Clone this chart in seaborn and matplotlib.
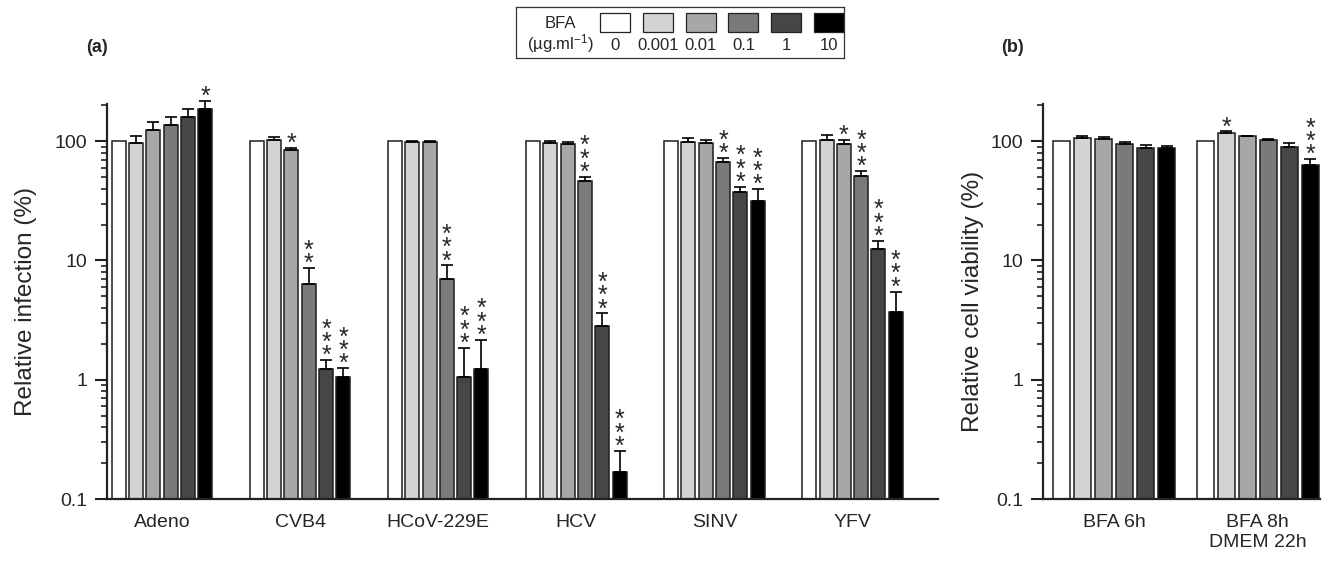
import numpy as np
import pandas as pd
import matplotlib
matplotlib.use('Agg')
import matplotlib.pyplot as plt
import seaborn as sns
from matplotlib.patches import Rectangle
from matplotlib.ticker import LogLocator, NullFormatter

# BFA doses and their grey levels
doses = ['0', '0.001', '0.01', '0.1', '1', '10']
dose_colors = ['#ffffff', '#d3d3d3', '#a7a7a7', '#7a7a7a', '#464646', '#000000']

# panel (a): relative infection (%)
viruses = ['Adeno', 'CVB4', 'HCoV-229E', 'HCV', 'SINV', 'YFV']
inf_adeno = [100, 97, 124, 137, 160, 187]
inf_cvb4 = [100, 103, 85, 6.4, 1.22, 1.06]
inf_hcov = [100, 98.5, 98.5, 7.0, 1.06, 1.24]
inf_hcv = [100, 96.8, 95.6, 46.4, 2.83, 0.17]
inf_sinv = [100, 98.6, 96.8, 66.6, 37.8, 31.5]
inf_yfv = [100, 102, 94.4, 51.5, 12.4, 3.68]

err_adeno = [0, 13, 20, 23, 26, 31]
err_cvb4 = [0, 5, 3.5, 2.2, 0.24, 0.19]
err_hcov = [0, 1.5, 1.5, 2.1, 0.79, 0.92]
err_hcv = [0, 3, 2.4, 3.7, 0.77, 0.083]
err_sinv = [0, 7.4, 5.7, 5.8, 3.5, 8]
err_yfv = [0, 9.6, 8.1, 4.5, 2.2, 1.8]

stars_adeno = [0, 0, 0, 0, 0, 1]
stars_cvb4 = [0, 0, 1, 2, 3, 3]
stars_hcov = [0, 0, 0, 3, 3, 3]
stars_hcv = [0, 0, 0, 3, 3, 3]
stars_sinv = [0, 0, 0, 2, 3, 3]
stars_yfv = [0, 0, 1, 3, 3, 3]

# panel (b): relative cell viability (%)
conditions = ['BFA 6h', 'BFA 8h\nDMEM 22h']
via_6h = [100, 106.6, 105, 93.9, 88, 87]
via_8h = [100, 118, 110, 102.6, 88.6, 63.5]
via_err_6h = [0, 4.4, 4, 5, 4.5, 5]
via_err_8h = [0, 3, 1, 2, 7.4, 7]
via_stars_6h = [0, 0, 0, 0, 0, 0]
via_stars_8h = [0, 1, 0, 0, 0, 3]

infection = [inf_adeno, inf_cvb4, inf_hcov, inf_hcv, inf_sinv, inf_yfv]
inf_errs = [err_adeno, err_cvb4, err_hcov, err_hcv, err_sinv, err_yfv]
inf_stars = [stars_adeno, stars_cvb4, stars_hcov, stars_hcv, stars_sinv, stars_yfv]
viability = [via_6h, via_8h]
via_errs = [via_err_6h, via_err_8h]
via_stars = [via_stars_6h, via_stars_8h]


def long_df(groups, values, col):
    rows = []
    for g, vals in zip(groups, values):
        for d, v in zip(doses, vals):
            rows.append({'group': g, 'dose': d, col: v})
    return pd.DataFrame(rows)


sns.set_style('ticks')
plt.rcParams['font.family'] = ['Liberation Sans', 'DejaVu Sans']
plt.rcParams['mathtext.default'] = 'regular'

fig = plt.figure(figsize=(13.35, 5.62), dpi=100)
ax_a = fig.add_axes([107 / 1335, 63 / 562, 831 / 1335, 395 / 562])
ax_b = fig.add_axes([1043 / 1335, 63 / 562, 277 / 1335, 395 / 562])


def draw_panel(ax, df, col, errs, stars, width, gap, xlim, ylabel, lpad):
    sns.barplot(data=df, x='group', y=col, hue='dose', hue_order=doses,
                palette=dose_colors, errorbar=None, width=width, gap=gap,
                edgecolor='#1e1e1e', linewidth=1.1, saturation=1,
                legend=False, ax=ax)
    ax.set_yscale('log')
    ax.set_ylim(0.1, 205)
    ax.set_xlim(*xlim)
    bar_conts = list(ax.containers)
    for i, cont in enumerate(bar_conts):
        for j, bar in enumerate(cont.patches):
            x = bar.get_x() + bar.get_width() / 2
            h = bar.get_height()
            e = errs[j][i]
            if e > 0:
                ax.errorbar(x, h, yerr=[[0], [e]], fmt='none', ecolor='black',
                            elinewidth=1.2, capsize=4.5, capthick=1.2,
                            clip_on=False)
            n = stars[j][i]
            if n:
                # one stacked text per bar
                ax.annotate('\n'.join(['*'] * n), (x, h + e), xytext=(0, -5.8),
                            textcoords='offset points', ha='center',
                            va='bottom', fontsize=18, linespacing=0.44,
                            annotation_clip=False)
    ax.set_yticks([0.1, 1, 10, 100], labels=['0.1', '1', '10', '100'])
    ax.yaxis.set_minor_locator(LogLocator(base=10, subs=np.arange(2, 10)))
    ax.yaxis.set_minor_formatter(NullFormatter())
    ax.tick_params(axis='y', which='major', length=9, width=1.5,
                   labelsize=14, pad=5, color='#222222')
    ax.tick_params(axis='y', which='minor', length=4.5, width=1.2, color='#222222')
    ax.tick_params(axis='x', length=0, labelsize=14, pad=11)
    sns.despine(ax=ax)
    for s in ['left', 'bottom']:
        ax.spines[s].set_linewidth(1.6)
        ax.spines[s].set_color('#222222')
    ax.set_xlabel('')
    ax.set_ylabel(ylabel, fontsize=17.5, labelpad=lpad)


draw_panel(ax_a, long_df(viruses, infection, 'infection'), 'infection',
           inf_errs, inf_stars, 0.752, 0.19, (-0.398, 5.619),
           'Relative infection (%)', 13)
draw_panel(ax_b, long_df(conditions, viability, 'viability'), 'viability',
           via_errs, via_stars, 0.877, 0.2, (-0.494, 1.433),
           'Relative cell viability (%)', 5)

fig.text(97 / 1335, 1 - 47 / 562, '(a)', fontsize=13, fontweight='bold',
         ha='center', va='center')
fig.text(1012 / 1335, 1 - 47 / 562, '(b)', fontsize=13, fontweight='bold',
         ha='center', va='center')

# legend box built by hand: labels sit below the swatches
lax = fig.add_axes([516 / 1335, 1 - 58 / 562, 328 / 1335, 51 / 562])
lax.set_xlim(0, 328)
lax.set_ylim(51, 0)
lax.set_xticks([])
lax.set_yticks([])
for s in lax.spines.values():
    s.set_linewidth(0.9)
    s.set_color('#333333')
lax.text(44, 16, 'BFA', fontsize=12, ha='center', va='center')
lax.text(44, 37, '(µg.ml$^{-1}$)', fontsize=12, ha='center', va='center')
for i, (d, c) in enumerate(zip(doses, dose_colors)):
    cx = 99 + 42.8 * i
    lax.add_patch(Rectangle((cx - 15, 6), 30, 19, facecolor=c,
                            edgecolor='#222222', linewidth=0.9))
    lax.text(cx, 38, d, fontsize=12, ha='center', va='center')

fig.savefig('out.png', dpi=100)
